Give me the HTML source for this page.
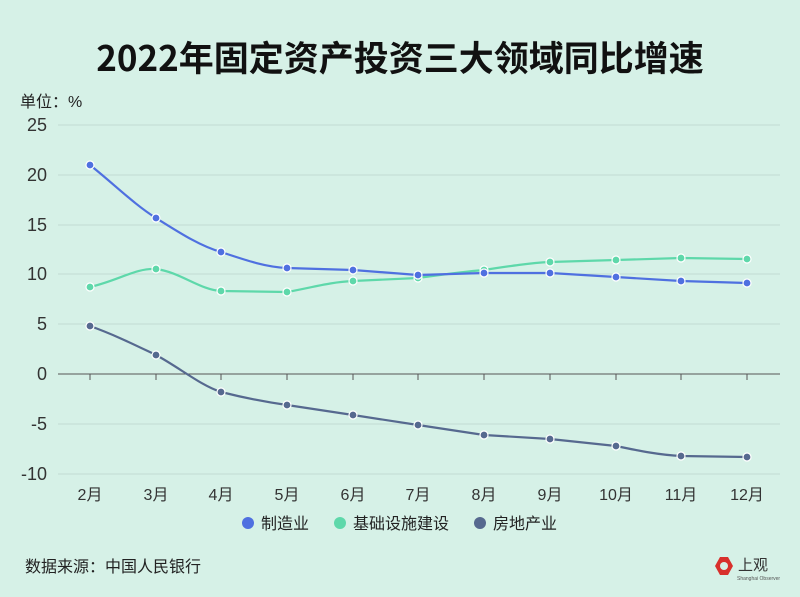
<!DOCTYPE html>
<html><head><meta charset="utf-8"><style>
body{margin:0;background:#d6f1e7;}
svg{display:block;font-family:"Liberation Sans","Noto Sans CJK SC",sans-serif;}
</style></head><body>
<svg width="800" height="597" viewBox="0 0 800 597">
<rect width="800" height="597" fill="#d6f1e7"/>
<text x="400" y="71" text-anchor="middle" font-size="35" font-weight="bold" fill="#111" font-family="'Noto Sans CJK SC',sans-serif">2022年固定资产投资三大领域同比增速</text>
<text x="20" y="107" font-size="16" fill="#222">单位：%</text>
<g stroke="#c3dcd3" stroke-width="1">
<line x1="58" x2="780" y1="125" y2="125"/><line x1="58" x2="780" y1="175" y2="175"/>
<line x1="58" x2="780" y1="225" y2="225"/><line x1="58" x2="780" y1="274" y2="274"/>
<line x1="58" x2="780" y1="324" y2="324"/><line x1="58" x2="780" y1="424" y2="424"/>
<line x1="58" x2="780" y1="474" y2="474"/>
</g>
<line x1="58" x2="780" y1="374" y2="374" stroke="#555" stroke-width="1"/>
<g stroke="#555"><line x1="90" x2="90" y1="374" y2="380"/><line x1="156" x2="156" y1="374" y2="380"/><line x1="221" x2="221" y1="374" y2="380"/><line x1="287" x2="287" y1="374" y2="380"/><line x1="353" x2="353" y1="374" y2="380"/><line x1="418" x2="418" y1="374" y2="380"/><line x1="484" x2="484" y1="374" y2="380"/><line x1="550" x2="550" y1="374" y2="380"/><line x1="616" x2="616" y1="374" y2="380"/><line x1="681" x2="681" y1="374" y2="380"/><line x1="747" x2="747" y1="374" y2="380"/></g>
<g font-size="18" fill="#333" text-anchor="end">
<text x="47" y="131">25</text><text x="47" y="181">20</text><text x="47" y="231">15</text><text x="47" y="280">10</text><text x="47" y="330">5</text><text x="47" y="380">0</text><text x="47" y="430">-5</text><text x="47" y="480">-10</text>
</g>
<g font-size="16" fill="#333" text-anchor="middle">
<text x="90" y="500">2月</text><text x="156" y="500">3月</text><text x="221" y="500">4月</text><text x="287" y="500">5月</text><text x="353" y="500">6月</text><text x="418" y="500">7月</text><text x="484" y="500">8月</text><text x="550" y="500">9月</text><text x="616" y="500">10月</text><text x="681" y="500">11月</text><text x="747" y="500">12月</text>
</g>
<g fill="none" stroke-width="2.2" stroke-linejoin="round">
<path stroke="#5ed8aa" d="M90,287 C120,280 135,268 156,269 C180,272 200,290 221,291 L287,292 C310,288 330,282 353,281 L418,278 C440,275 460,272 484,270 C510,266 530,263 550,262 L616,260 L681,258 L747,259"/>
<path stroke="#4f70e0" d="M90,165 C115,185 135,205 156,218 C180,233 200,246 221,252 C245,260 265,267 287,268 L353,270 L418,275 L484,273 L550,273 L616,277 L681,281 L747,283"/>
<path stroke="#56698f" d="M90,326 C115,335 135,345 156,355 C180,368 200,385 221,392 C245,398 265,402 287,405 L353,415 L418,425 L484,435 L550,439 L616,446 C640,451 660,455 681,456 L747,457"/>
</g>
<g stroke="#fff" stroke-width="1.2">
<g fill="#5ed8aa"><circle cx="90" cy="287" r="4"/><circle cx="156" cy="269" r="4"/><circle cx="221" cy="291" r="4"/><circle cx="287" cy="292" r="4"/><circle cx="353" cy="281" r="4"/><circle cx="418" cy="278" r="4"/><circle cx="484" cy="270" r="4"/><circle cx="550" cy="262" r="4"/><circle cx="616" cy="260" r="4"/><circle cx="681" cy="258" r="4"/><circle cx="747" cy="259" r="4"/></g>
<g fill="#4f70e0"><circle cx="90" cy="165" r="4"/><circle cx="156" cy="218" r="4"/><circle cx="221" cy="252" r="4"/><circle cx="287" cy="268" r="4"/><circle cx="353" cy="270" r="4"/><circle cx="418" cy="275" r="4"/><circle cx="484" cy="273" r="4"/><circle cx="550" cy="273" r="4"/><circle cx="616" cy="277" r="4"/><circle cx="681" cy="281" r="4"/><circle cx="747" cy="283" r="4"/></g>
<g fill="#56698f"><circle cx="90" cy="326" r="4"/><circle cx="156" cy="355" r="4"/><circle cx="221" cy="392" r="4"/><circle cx="287" cy="405" r="4"/><circle cx="353" cy="415" r="4"/><circle cx="418" cy="425" r="4"/><circle cx="484" cy="435" r="4"/><circle cx="550" cy="439" r="4"/><circle cx="616" cy="446" r="4"/><circle cx="681" cy="456" r="4"/><circle cx="747" cy="457" r="4"/></g>
</g>
<g font-size="16" fill="#222">
<circle cx="248" cy="523" r="6" fill="#4f70e0"/><text x="261" y="529">制造业</text>
<circle cx="340" cy="523" r="6" fill="#5ed8aa"/><text x="353" y="529">基础设施建设</text>
<circle cx="480" cy="523" r="6" fill="#56698f"/><text x="493" y="529">房地产业</text>
</g>
<text x="25" y="572" font-size="16" fill="#222">数据来源：中国人民银行</text>
<polygon points="720,557 728,557 733,566 728,575 720,575 715,566" fill="#d8302c"/>
<circle cx="724" cy="566" r="4" fill="#d6f1e7"/>
<text x="738" y="570" font-size="15" fill="#333">上观</text>
<text x="737" y="580" font-size="5" fill="#555">Shanghai Observer</text>
</svg>
</body></html>
